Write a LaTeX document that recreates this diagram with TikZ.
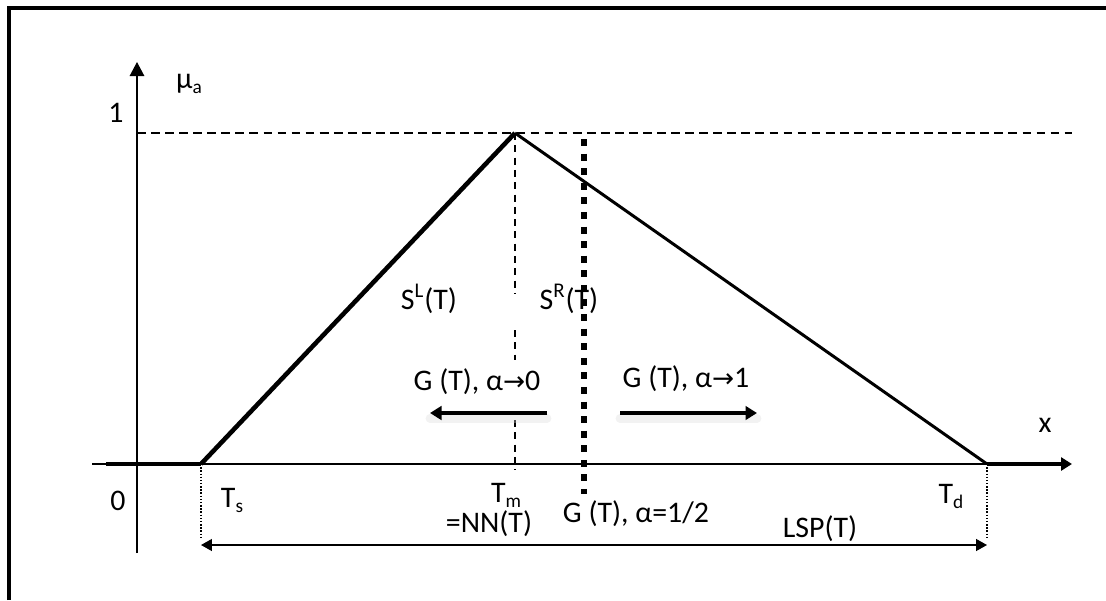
\documentclass[tikz,border=0pt]{standalone}
\usepackage{fontspec}
\setmainfont{Carlito}
\newfontfamily\arrowfont{DejaVu Sans}
\usetikzlibrary{arrows.meta, positioning}
\newcommand{\lowr}[1]{\raisebox{-0.35ex}{\fontsize{11}{11}\selectfont #1}}
\newcommand{\rarr}{{\arrowfont\fontsize{15}{18}\selectfont →}}

\begin{document}
\begin{tikzpicture}[x=0.02cm, y=-0.02cm, >={Triangle[length=2.3mm, width=2.5mm]},
  lbl/.style={inner sep=0pt, anchor=base, font=\fontsize{17}{20}\selectfont},
  thinline/.style={line width=0.8pt},
  bigarrow/.style={->, line width=2.6pt, >={Triangle[length=2.3mm, width=2.7mm]}},
  shadowline/.style={line width=5pt, gray!30, opacity=0.35, line cap=round}]
\useasboundingbox (0,0) rectangle (1106,600);
% frame
\draw[line width=2.3pt] (9,600) -- (9,8) -- (1106,8);
% key points of the membership function
\coordinate (O) at (137,464);
\coordinate (Ts) at (201,464);
\coordinate (Td) at (987,464);
\coordinate (peak) at (515,133);
\coordinate (Tm) at (515,470);
% axes
\draw[thinline, ->, >={Triangle[length=2.8mm, width=2.9mm]}] (137,553) -- (137,62);
\draw[thinline] (92,464) -- (Td);
\draw[line width=2.6pt] (106,464) -- (Ts);
\draw[line width=2.6pt, ->, >={Triangle[length=2.2mm, width=2.6mm]}] (Td) -- (1072,464);
% level 1
\draw[thinline, dash pattern=on 5pt off 3pt] (137,133) -- (1072,133);
% triangle
\draw[line width=2.6pt] (Ts) -- (peak);
\draw[line width=1.7pt] (peak) -- (Td);
% Tm line, interrupted by the labels
\draw[line width=0.7pt, dash pattern=on 4pt off 3pt] (peak) -- (515,293);
\draw[line width=0.7pt, dash pattern=on 4pt off 3pt] (515,330) -- (515,360);
\draw[line width=0.7pt, dash pattern=on 4pt off 3pt] (515,420) -- (Tm);
% alpha = 1/2
\draw[line width=3.4pt, dash pattern=on 4pt off 4.3pt] (584,139) -- (584,494);
% support limits
\coordinate (lspL) at (201,545);
\coordinate (lspR) at (987,545);
\draw[thinline, densely dotted] (Ts) -- (201,538);
\draw[thinline, densely dotted] (Td) -- (987,538);
\draw[thinline, <->, >={Triangle[length=2.2mm, width=2.4mm]}] (lspL) -- (lspR);
% direction arrows
\coordinate (g0s) at (547,413);
\coordinate (g0e) at (430,413);
\coordinate (g1s) at (620,413);
\coordinate (g1e) at (757,413);
\draw[shadowline] ([yshift=-3pt]g0s) -- ([yshift=-3pt]g0e);
\draw[shadowline] ([yshift=-3pt]g1s) -- ([yshift=-3pt]g1e);
\draw[bigarrow] (g0s) -- (g0e);
\draw[bigarrow] (g1s) -- (g1e);
% labels
\node[lbl] (mu) at (189,88) {μ\lowr{a}};
\node[lbl] (one) at (116,122) {1};
\node[lbl] (zero) at (118,510) {0};
\node[lbl] (xlab) at (1045,432) {x};
\node[lbl] (ts) at (232,507) {T\lowr{s}};
\node[lbl] (tm) at (506,502) {T\lowr{m}};
\node[lbl] (nn) at (489,532) {=NN(T)};
\node[lbl] (td) at (951,503) {T\lowr{d}};
\node[lbl] (lsp) at (820,537) {LSP(T)};
\node[lbl] (half) at (636,522) {G (T), α=1/2};
\node[lbl] (sl) at (429,309) {S\textsuperscript{L}(T)};
\node[lbl] (sr) at (569,309) {S\textsuperscript{R}(T)};
\node[lbl] (g0) at (477,390) {G (T), α\rarr0};
\node[lbl] (g1) at (686,387) {G (T), α\rarr1};
\end{tikzpicture}
\end{document}
